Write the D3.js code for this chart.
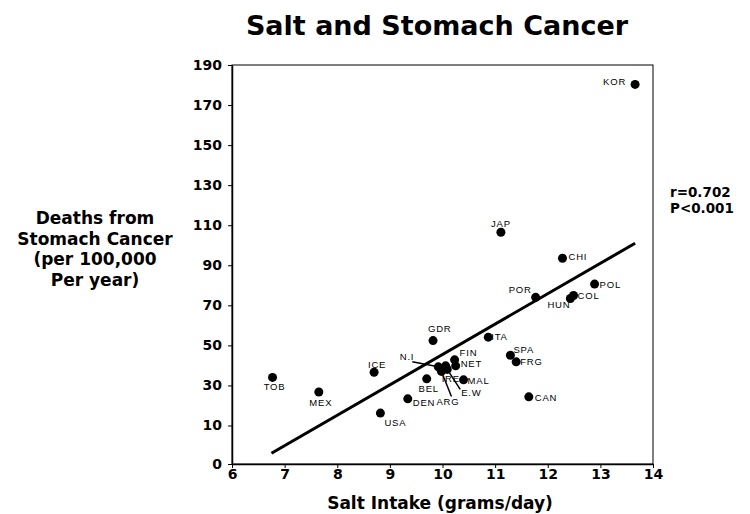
<!DOCTYPE html>
<html>
<head>
<meta charset="utf-8">
<script src="https://cdn.jsdelivr.net/npm/d3@7"></script>
<style>
  body { margin: 0; background: #fff; }
  svg { display: block; }
</style>
</head>
<body>
<svg width="750" height="514"></svg>
<script>
// values
var countries = ["TOB", "MEX", "ICE", "USA", "DEN", "BEL", "N.I", "ARG", "IRE", "E.W",
                 "GDR", "FIN", "NET", "MAL", "ITA", "JAP", "SPA", "FRG", "CAN", "POR",
                 "CHI", "HUN", "COL", "POL", "KOR"];
var saltIntake = [6.77, 7.65, 8.70, 8.82, 9.34, 9.70, 9.92, 9.98, 10.06, 10.09,
                  9.82, 10.23, 10.25, 10.40, 10.87, 11.11, 11.29, 11.40, 11.64, 11.77,
                  12.28, 12.43, 12.49, 12.89, 13.66];
var deaths = [34.0, 26.7, 36.6, 16.2, 23.3, 33.3, 39.3, 37.0, 39.8, 38.0,
              52.4, 42.8, 39.8, 32.8, 54.1, 106.5, 45.1, 41.8, 24.3, 74.0,
              93.5, 73.4, 74.9, 80.6, 180.3];
var fitX = [6.75, 13.66];
var fitY = [2.8, 101.0];
var xTicks = [6, 7, 8, 9, 10, 11, 12, 13, 14];
var yTicks = [0, 10, 30, 50, 70, 90, 110, 130, 150, 170, 190];
var yTitle = ["Deaths from", "Stomach Cancer", "(per 100,000", "Per year)"];
var stats = ["r=0.702", "P<0.001"];

// where each label sits relative to its dot (pixels)
var labelPos = {
  "KOR": {dx: -9, dy: 1, a: "end"},
  "JAP": {dx: 0, dy: -5, a: "middle"},
  "CHI": {dx: 6, dy: 2, a: "start"},
  "POL": {dx: 5, dy: 4, a: "start"},
  "COL": {dx: 4, dy: 3, a: "start"},
  "HUN": {dx: 0, dy: 9, a: "end"},
  "POR": {dx: -4, dy: -4, a: "end"},
  "ITA": {dx: 3, dy: 3, a: "start"},
  "GDR": {dx: -5, dy: -9, a: "start"},
  "SPA": {dx: 3, dy: -2, a: "start"},
  "FRG": {dx: 4, dy: 3, a: "start"},
  "FIN": {dx: 5, dy: -4, a: "start"},
  "NET": {dx: 5, dy: 1, a: "start"},
  "BEL": {dx: 2, dy: 13, a: "middle"},
  "MAL": {dx: 4, dy: 4, a: "start"},
  "DEN": {dx: 5, dy: 7, a: "start"},
  "ARG": {dx: -5, dy: 34, a: "start", lx: 10, ly: 25},
  "E.W": {dx: 14, dy: 27, a: "start", lx: 13, ly: 20},
  "CAN": {dx: 6, dy: 4, a: "start"},
  "USA": {dx: 4, dy: 13, a: "start"},
  "TOB": {dx: 2, dy: 13, a: "middle"},
  "MEX": {dx: 2, dy: 14, a: "middle"},
  "ICE": {dx: 3, dy: -4, a: "middle"},
  "N.I": {dx: -24, dy: -7, a: "end", lx: -26, ly: -5},
  "IRE": {dx: -4, dy: 16, a: "start"}
};

var svg = d3.select("svg"),
    margin = {top: 65, right: 97, bottom: 50, left: 232},
    width = +svg.attr("width") - margin.left - margin.right,
    height = +svg.attr("height") - margin.top - margin.bottom,
    g = svg.append("g").attr("transform", "translate(" + margin.left + "," + margin.top + ")");

var x = d3.scaleLinear()
    .domain([6, 14])
    .range([0, width]);

// the slide puts 0 a bit further below 10 than the other steps
var y = d3.scaleLinear()
    .domain([0, 10, 190])
    .range([height, height - 38.5, 0]);

var data = countries.map(function(c, i) {
  return {name: c, salt: saltIntake[i], deaths: deaths[i]};
});

// box
g.append("rect")
    .attr("width", width)
    .attr("height", height)
    .attr("fill", "none")
    .attr("stroke", "#000")
    .attr("stroke-width", 1);

g.append("g")
    .attr("class", "axis")
    .attr("transform", "translate(0," + height + ")")
    .call(d3.axisBottom(x).tickValues(xTicks).tickSize(4).tickPadding(1).tickSizeOuter(0))
    .call(function(a) {
      a.select(".domain").attr("stroke-width", 1.5);
      a.selectAll("text")
        .attr("font-family", "DejaVu Sans")
        .attr("font-weight", "bold")
        .attr("font-size", 14)
        .attr("fill", "#000");
    });

g.append("g")
    .attr("class", "axis")
    .call(d3.axisLeft(y).tickValues(yTicks).tickSize(4).tickPadding(6).tickSizeOuter(0))
    .call(function(a) {
      a.select(".domain").attr("stroke-width", 1.5);
      a.selectAll("text")
        .attr("font-family", "DejaVu Sans")
        .attr("font-weight", "bold")
        .attr("font-size", 14)
        .attr("fill", "#000");
    });

// fitted line
g.append("line")
    .attr("x1", x(fitX[0]))
    .attr("y1", y(fitY[0]))
    .attr("x2", x(fitX[1]))
    .attr("y2", y(fitY[1]))
    .attr("stroke", "#000")
    .attr("stroke-width", 3);

// leader lines
g.append("g")
  .selectAll("line")
  .data(data.filter(function(d) { return labelPos[d.name].lx !== undefined; }))
  .enter().append("line")
    .attr("x1", function(d) { return x(d.salt) + labelPos[d.name].lx; })
    .attr("y1", function(d) { return y(d.deaths) + labelPos[d.name].ly; })
    .attr("x2", function(d) { return x(d.salt); })
    .attr("y2", function(d) { return y(d.deaths); })
    .attr("stroke", "#000")
    .attr("stroke-width", 1.5);

g.append("g")
  .selectAll("circle")
  .data(data)
  .enter().append("circle")
    .attr("cx", function(d) { return x(d.salt); })
    .attr("cy", function(d) { return y(d.deaths); })
    .attr("r", 4.5)
    .attr("fill", "#000");

g.append("g")
    .attr("font-family", "Liberation Sans")
    .attr("font-size", 9.5)
    .attr("letter-spacing", 0.8)
  .selectAll("text")
  .data(data)
  .enter().append("text")
    .attr("x", function(d) { return x(d.salt) + labelPos[d.name].dx; })
    .attr("y", function(d) { return y(d.deaths) + labelPos[d.name].dy; })
    .attr("text-anchor", function(d) { return labelPos[d.name].a; })
    .text(function(d) { return d.name; });

// titles
svg.append("text")
    .attr("x", 437)
    .attr("y", 35)
    .attr("text-anchor", "middle")
    .attr("font-family", "DejaVu Sans")
    .attr("font-weight", "bold")
    .attr("font-size", 27)
    .text("Salt and Stomach Cancer");

svg.append("text")
    .attr("x", 440)
    .attr("y", 509)
    .attr("text-anchor", "middle")
    .attr("font-family", "DejaVu Sans")
    .attr("font-weight", "bold")
    .attr("font-size", 17)
    .text("Salt Intake (grams/day)");

svg.append("g")
    .attr("font-family", "DejaVu Sans")
    .attr("font-weight", "bold")
    .attr("font-size", 17)
    .attr("text-anchor", "middle")
  .selectAll("text")
  .data(yTitle)
  .enter().append("text")
    .attr("x", 95)
    .attr("y", function(d, i) { return 224 + i * 20.7; })
    .text(function(d) { return d; });

svg.append("g")
    .attr("font-family", "DejaVu Sans")
    .attr("font-weight", "bold")
    .attr("font-size", 13.5)
  .selectAll("text")
  .data(stats)
  .enter().append("text")
    .attr("x", 670)
    .attr("y", function(d, i) { return 197 + i * 15.5; })
    .text(function(d) { return d; });
</script>
</body>
</html>
